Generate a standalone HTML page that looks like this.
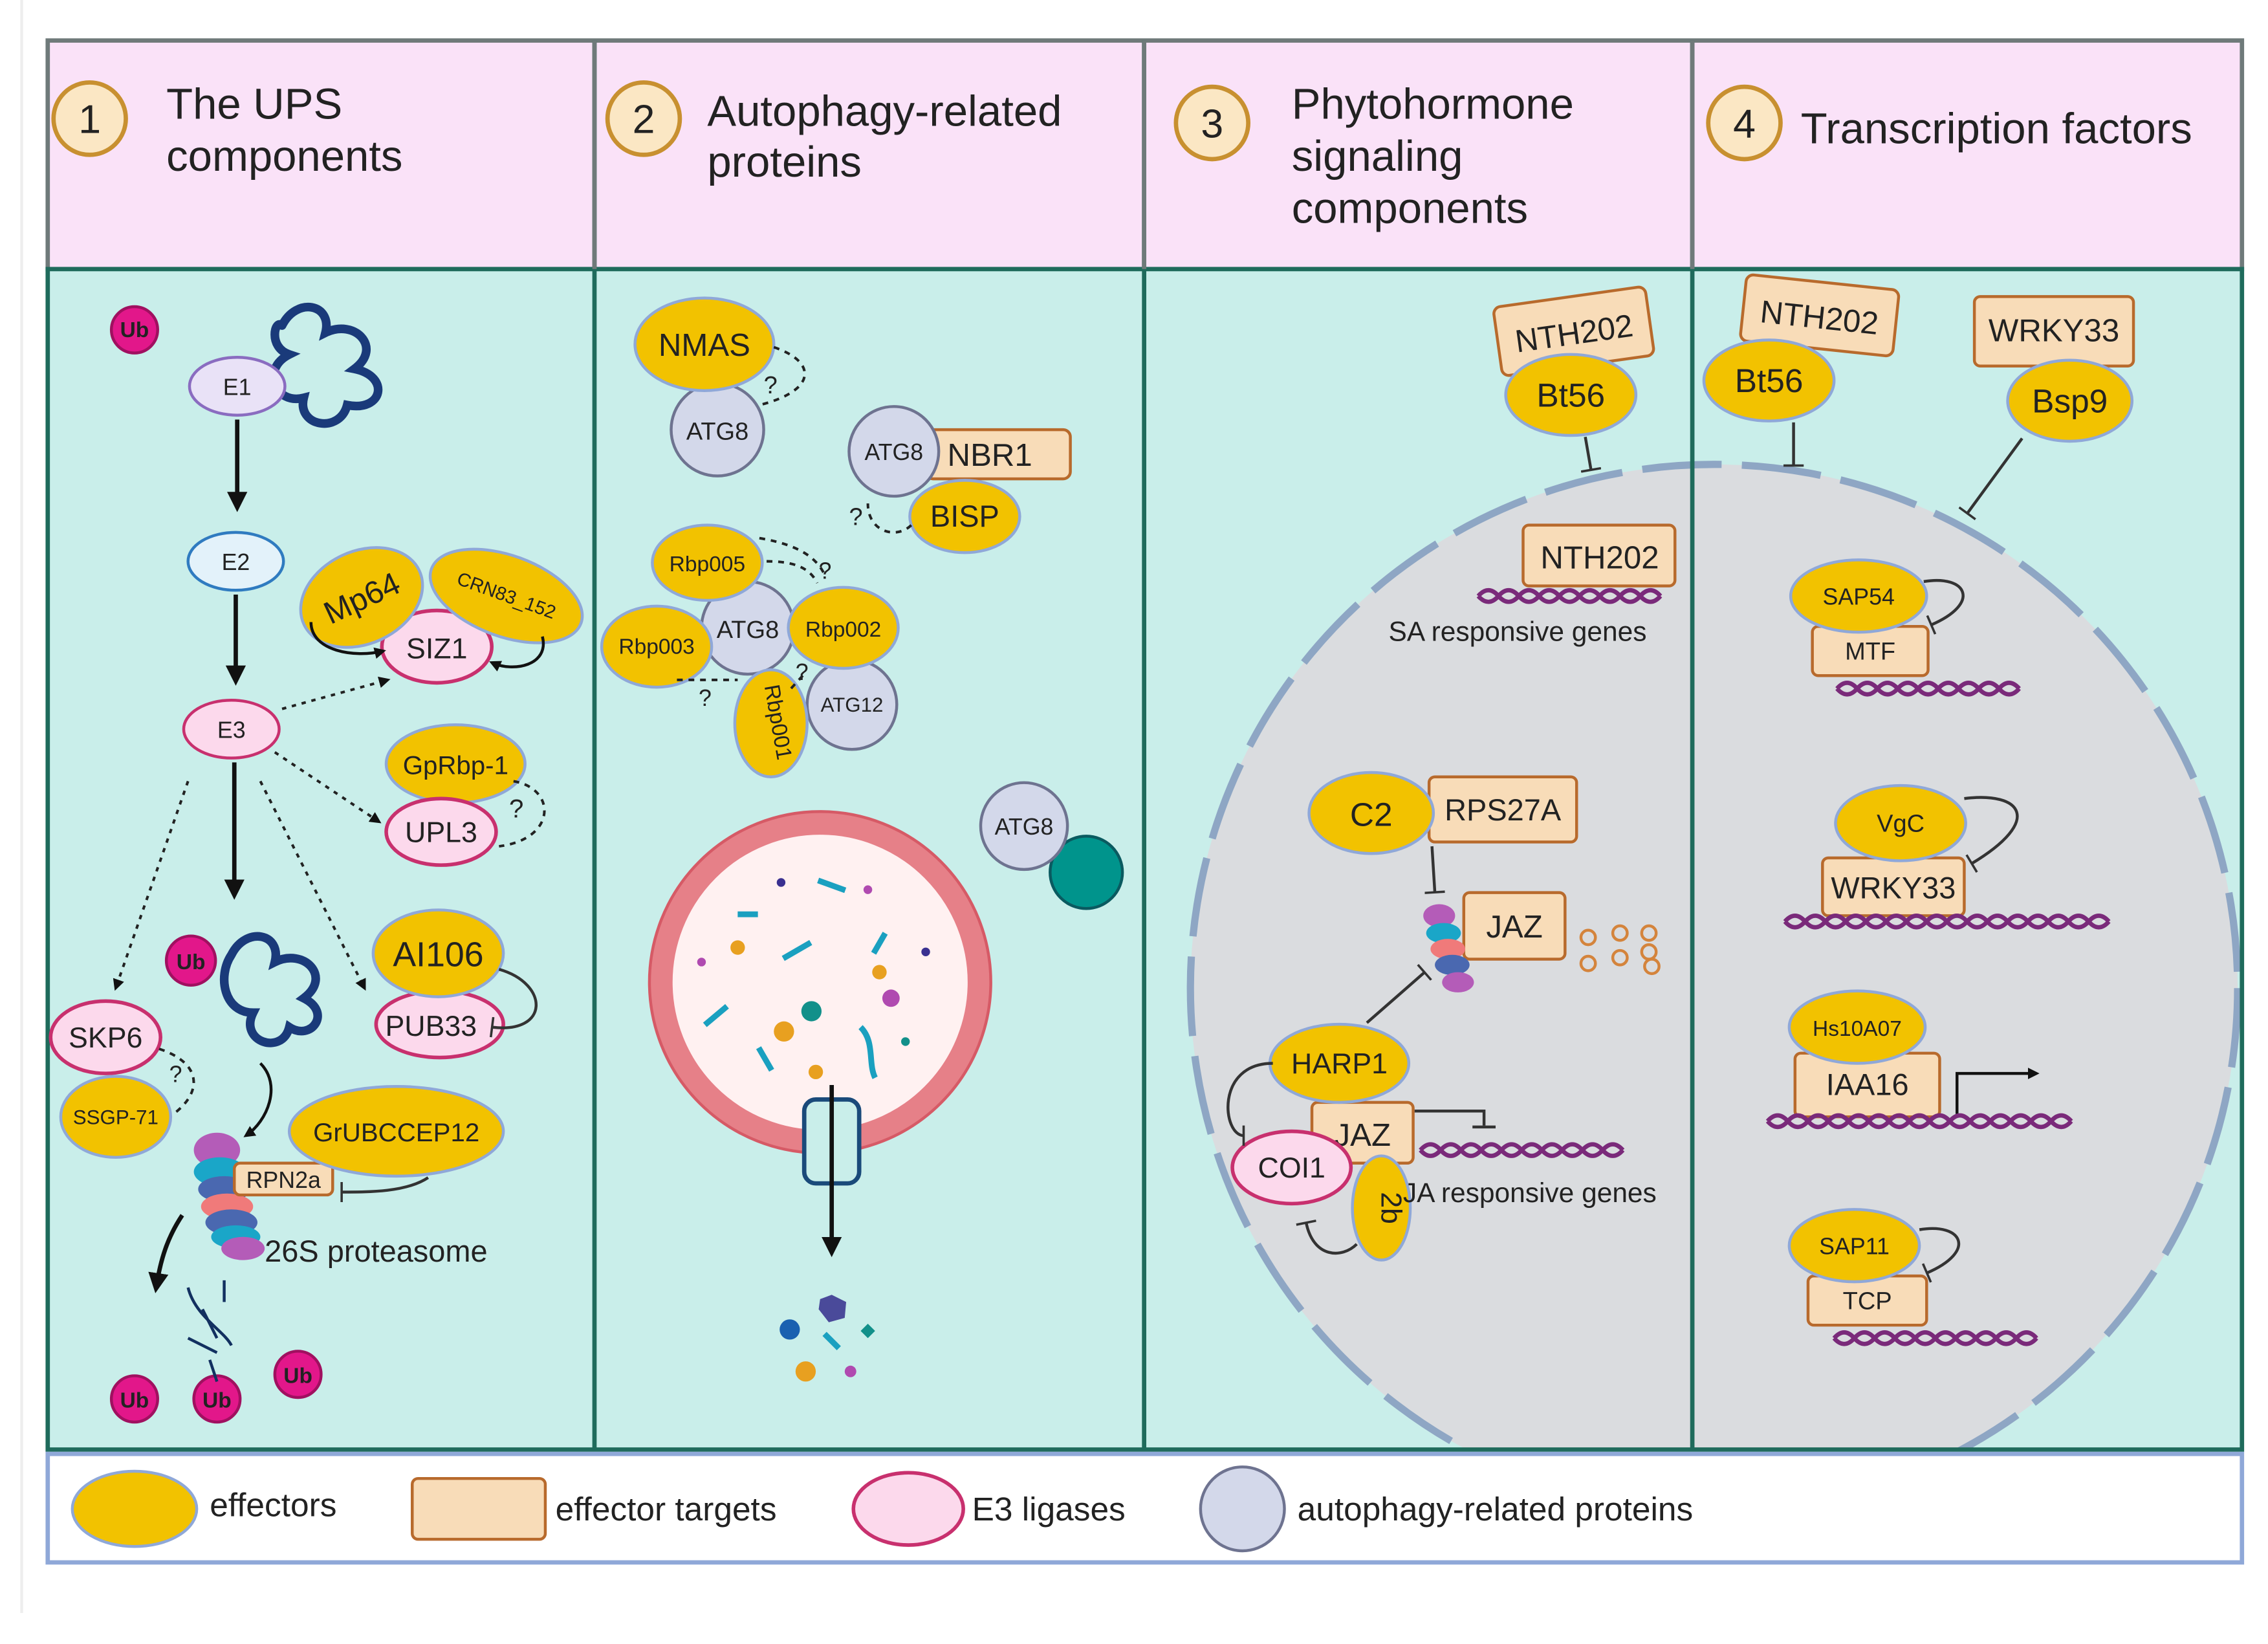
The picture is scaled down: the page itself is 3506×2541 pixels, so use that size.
<!DOCTYPE html>
<html><head><meta charset="utf-8"><style>
html,body{margin:0;padding:0;background:#fff}
svg{display:block}
text{font-family:"Liberation Sans",Arial,sans-serif;fill:#222}
</style></head><body>
<svg width="3506" height="2541" viewBox="0 0 1568 1136.4" preserveAspectRatio="none" xmlns="http://www.w3.org/2000/svg">
<defs>
<marker id="ah" markerWidth="8" markerHeight="8" refX="6" refY="4" orient="auto" markerUnits="userSpaceOnUse"><path d="M0,0 L8,4 L0,8 z" fill="#111"/></marker>
<marker id="ahb" markerWidth="14" markerHeight="14" refX="10" refY="7" orient="auto" markerUnits="userSpaceOnUse"><path d="M0,0 L14,7 L0,14 z" fill="#111"/></marker>
<marker id="tb" markerWidth="4" markerHeight="14" refX="2" refY="7" orient="auto" markerUnits="userSpaceOnUse"><rect x="1" y="0" width="1.6" height="14" fill="#333"/></marker>
<clipPath id="body"><rect x="33" y="186" width="1517" height="816"/></clipPath>
</defs>
<line x1="15" y1="0" x2="15" y2="1115" stroke="#eee" stroke-width="2"/>
<!-- header -->
<rect x="33" y="28" width="1517" height="158" fill="#fae2f8" stroke="#6f7a7a" stroke-width="3"/>
<rect x="33" y="186" width="1517" height="816" fill="#c9eeea"/>
<!-- nucleus -->
<g clip-path="url(#body)">
<circle cx="1185" cy="683" r="362" fill="#dadcdf" stroke="#8ea6c4" stroke-width="5" stroke-dasharray="55 14"/>
</g>
<g stroke="#1f6b5c" stroke-width="3" fill="none">
<rect x="33" y="186" width="1517" height="816"/>
<line x1="411" y1="28" x2="411" y2="1002"/><line x1="791" y1="28" x2="791" y2="1002"/><line x1="1170" y1="28" x2="1170" y2="1002"/>
</g>
<g stroke="#6f7a7a" stroke-width="3"><line x1="411" y1="28" x2="411" y2="186"/><line x1="791" y1="28" x2="791" y2="186"/><line x1="1170" y1="28" x2="1170" y2="186"/></g>
<!-- header circles -->
<g fill="#fbe7c4" stroke="#c89030" stroke-width="3">
<circle cx="62" cy="82" r="25"/><circle cx="445" cy="82" r="25"/><circle cx="838" cy="85" r="25"/><circle cx="1206" cy="85" r="25"/></g>
<g font-size="28" text-anchor="middle"><text x="62" y="92">1</text><text x="445" y="92">2</text><text x="838" y="95">3</text><text x="1206" y="95">4</text></g>
<g font-size="30"><text x="115" y="82">The UPS</text><text x="115" y="118">components</text>
<text x="489" y="87">Autophagy-related</text><text x="489" y="122">proteins</text>
<text x="893" y="82">Phytohormone</text><text x="893" y="118">signaling</text><text x="893" y="154">components</text>
<text x="1245" y="99">Transcription factors</text></g>

<!-- Panel 1 -->
<g fill="none" stroke="#1a3a7a" stroke-width="6" stroke-linecap="round">
<path d="M195,225 c10,-20 35,-15 30,5 c20,-10 40,10 20,25 c25,5 20,30 -5,25 c-5,20 -35,15 -30,-5 c-20,5 -30,-20 -10,-30 c-15,-5 -10,-25 -5,-20"/>
<path d="M160,660 c10,-20 35,-15 30,5 c20,-10 40,10 20,25 c20,10 5,30 -10,20 c-5,20 -35,10 -25,-10 c-20,0 -25,-25 -15,-40"/>
</g>
<g fill="#e2178a" stroke="#a01060" stroke-width="2"><circle cx="93" cy="228" r="16"/><circle cx="132" cy="664" r="17"/><circle cx="93" cy="967" r="16"/><circle cx="150" cy="967" r="16"/><circle cx="206" cy="950" r="16"/></g>
<g fill="#fff" font-size="15" font-weight="bold" text-anchor="middle"><text x="93" y="233" fill="#fff">Ub</text><text x="132" y="670" fill="#fff">Ub</text><text x="93" y="973" fill="#fff">Ub</text><text x="150" y="973" fill="#fff">Ub</text><text x="206" y="956" fill="#fff">Ub</text></g>
<ellipse cx="164" cy="267" rx="33" ry="20" fill="#e9e2f7" stroke="#8a6cc0" stroke-width="2"/><text x="164" y="273" font-size="16" text-anchor="middle">E1</text>
<ellipse cx="163" cy="388" rx="33" ry="20" fill="#e3f2fa" stroke="#2f7bc0" stroke-width="2"/><text x="163" y="394" font-size="16" text-anchor="middle">E2</text>
<ellipse cx="160" cy="504" rx="33" ry="20" fill="#fcd9ec" stroke="#c8306e" stroke-width="2"/><text x="160" y="510" font-size="16" text-anchor="middle">E3</text>
<g stroke="#111" stroke-width="3"><line x1="164" y1="290" x2="164" y2="350" marker-end="url(#ahb)"/><line x1="163" y1="411" x2="163" y2="470" marker-end="url(#ahb)"/><line x1="162" y1="527" x2="162" y2="618" marker-end="url(#ahb)"/></g>
<g stroke="#222" stroke-width="1.8" stroke-dasharray="3 4" fill="none">
<line x1="195" y1="490" x2="268" y2="470" marker-end="url(#ah)"/>
<line x1="190" y1="520" x2="262" y2="568" marker-end="url(#ah)"/>
<line x1="180" y1="540" x2="252" y2="683" marker-end="url(#ah)"/>
<line x1="130" y1="540" x2="80" y2="683" marker-end="url(#ah)"/>
</g>
<ellipse cx="302" cy="447" rx="38" ry="25" fill="#fcd9ec" stroke="#c8306e" stroke-width="2.5"/><text x="302" y="455" font-size="20" text-anchor="middle">SIZ1</text>
<ellipse cx="250" cy="413" rx="44" ry="32" transform="rotate(-25 250 413)" fill="#f2c200" stroke="#8fa8d8" stroke-width="2"/><text x="250" y="421" font-size="22" text-anchor="middle" transform="rotate(-25 250 413)">Mp64</text>
<ellipse cx="350" cy="412" rx="55" ry="28" transform="rotate(20 350 412)" fill="#f2c200" stroke="#8fa8d8" stroke-width="2"/><text x="350" y="416" font-size="13" text-anchor="middle" transform="rotate(20 350 412)">CRN83_152</text>
<path d="M215,430 c0,20 30,25 50,20" stroke="#111" stroke-width="2" fill="none" marker-end="url(#ah)"/>
<path d="M375,440 c5,20 -20,25 -35,18" stroke="#111" stroke-width="2" fill="none" marker-end="url(#ah)"/>
<ellipse cx="315" cy="528" rx="48" ry="27" fill="#f2c200" stroke="#8fa8d8" stroke-width="2"/><text x="315" y="535" font-size="18" text-anchor="middle">GpRbp-1</text>
<ellipse cx="305" cy="575" rx="38" ry="23" fill="#fcd9ec" stroke="#c8306e" stroke-width="2.5"/><text x="305" y="582" font-size="20" text-anchor="middle">UPL3</text>
<path d="M355,540 c30,5 30,40 -10,45" stroke="#222" stroke-width="1.8" stroke-dasharray="4 4" fill="none"/><text x="352" y="565" font-size="18">?</text>
<ellipse cx="304" cy="708" rx="44" ry="23" fill="#fcd9ec" stroke="#c8306e" stroke-width="2.5"/><text x="298" y="716" font-size="20" text-anchor="middle">PUB33</text>
<ellipse cx="303" cy="659" rx="45" ry="30" fill="#f2c200" stroke="#8fa8d8" stroke-width="2"/><text x="303" y="668" font-size="24" text-anchor="middle">AI106</text>
<path d="M345,670 c35,10 35,45 -5,40" stroke="#333" stroke-width="2" fill="none" marker-end="url(#tb)"/>
<ellipse cx="73" cy="717" rx="38" ry="25" fill="#fcd9ec" stroke="#c8306e" stroke-width="2.5"/><text x="73" y="724" font-size="20" text-anchor="middle">SKP6</text>
<ellipse cx="80" cy="772" rx="38" ry="28" fill="#f2c200" stroke="#8fa8d8" stroke-width="2"/><text x="80" y="777" font-size="14" text-anchor="middle">SSGP-71</text>
<path d="M110,725 c30,10 30,30 10,45" stroke="#222" stroke-width="1.8" stroke-dasharray="4 4" fill="none"/><text x="117" y="748" font-size="16">?</text>
<!-- proteasome -->
<g>
<ellipse cx="150" cy="795" rx="16" ry="12" fill="#b45cb8"/><ellipse cx="152" cy="810" rx="18" ry="10" fill="#1aa6c8"/><ellipse cx="155" cy="822" rx="18" ry="9" fill="#4a68b0"/><ellipse cx="157" cy="834" rx="18" ry="9" fill="#f07a7a"/><ellipse cx="160" cy="845" rx="18" ry="9" fill="#4a68b0"/><ellipse cx="163" cy="855" rx="17" ry="8" fill="#1aa6c8"/><ellipse cx="168" cy="863" rx="15" ry="8" fill="#b45cb8"/>
</g>
<rect x="162" y="804" width="68" height="22" rx="4" fill="#f8dcb8" stroke="#b86a2c" stroke-width="2"/><text x="196" y="821" font-size="16" text-anchor="middle">RPN2a</text>
<ellipse cx="274" cy="782" rx="74" ry="31" fill="#f2c200" stroke="#8fa8d8" stroke-width="2"/><text x="274" y="789" font-size="18" text-anchor="middle">GrUBCCEP12</text>
<path d="M296,814 c-15,10 -40,10 -60,10" stroke="#333" stroke-width="2" fill="none" marker-end="url(#tb)"/>
<path d="M180,735 c15,15 5,40 -10,50" stroke="#111" stroke-width="2" fill="none" marker-end="url(#ah)"/>
<path d="M126,840 c-10,15 -15,30 -18,50" stroke="#111" stroke-width="3" fill="none" marker-end="url(#ahb)"/>
<text x="183" y="872" font-size="21">26S proteasome</text>
<g stroke="#123060" stroke-width="2" fill="none"><path d="M130,890 c5,20 25,30 30,40"/><line x1="140" y1="905" x2="150" y2="925"/><line x1="155" y1="885" x2="155" y2="900"/><line x1="130" y1="925" x2="150" y2="935"/><line x1="145" y1="940" x2="150" y2="955"/></g>

<!-- Panel 2 -->
<ellipse cx="496" cy="297" rx="32" ry="32" fill="#d3d8ea" stroke="#6e7390" stroke-width="2"/><text x="496" y="304" font-size="17" text-anchor="middle">ATG8</text>
<ellipse cx="487" cy="238" rx="48" ry="32" fill="#f2c200" stroke="#8fa8d8" stroke-width="2"/><text x="487" y="246" font-size="22" text-anchor="middle">NMAS</text>
<path d="M535,240 c30,10 30,30 -10,40" stroke="#222" stroke-width="1.8" stroke-dasharray="4 4" fill="none"/><text x="528" y="272" font-size="17">?</text>
<rect x="640" y="297" width="100" height="34" rx="5" fill="#f8dcb8" stroke="#b86a2c" stroke-width="2"/><text x="655" y="322" font-size="22">NBR1</text>
<ellipse cx="618" cy="312" rx="31" ry="31" fill="#d3d8ea" stroke="#6e7390" stroke-width="2"/><text x="618" y="318" font-size="16" text-anchor="middle">ATG8</text>
<ellipse cx="667" cy="357" rx="38" ry="25" fill="#f2c200" stroke="#8fa8d8" stroke-width="2"/><text x="667" y="364" font-size="21" text-anchor="middle">BISP</text>
<path d="M630,363 c-10,10 -30,5 -30,-15" stroke="#222" stroke-width="1.8" stroke-dasharray="4 4" fill="none"/><text x="587" y="363" font-size="17">?</text>
<ellipse cx="517" cy="434" rx="32" ry="32" fill="#d3d8ea" stroke="#6e7390" stroke-width="2"/><text x="517" y="441" font-size="17" text-anchor="middle">ATG8</text>
<ellipse cx="589" cy="487" rx="31" ry="31" fill="#d3d8ea" stroke="#6e7390" stroke-width="2"/><text x="589" y="492" font-size="14" text-anchor="middle">ATG12</text>
<ellipse cx="489" cy="389" rx="38" ry="26" fill="#f2c200" stroke="#8fa8d8" stroke-width="2"/><text x="489" y="395" font-size="15" text-anchor="middle">Rbp005</text>
<ellipse cx="454" cy="447" rx="38" ry="28" fill="#f2c200" stroke="#8fa8d8" stroke-width="2"/><text x="454" y="452" font-size="15" text-anchor="middle">Rbp003</text>
<ellipse cx="583" cy="434" rx="38" ry="28" fill="#f2c200" stroke="#8fa8d8" stroke-width="2"/><text x="583" y="440" font-size="15" text-anchor="middle">Rbp002</text>
<ellipse cx="533" cy="500" rx="25" ry="37" fill="#f2c200" stroke="#8fa8d8" stroke-width="2"/><text x="533" y="500" font-size="15" text-anchor="middle" transform="rotate(80 533 500)">Rbp001</text>
<g stroke="#222" stroke-width="1.8" stroke-dasharray="4 4" fill="none"><path d="M525,372 c30,5 40,15 45,25"/><path d="M530,388 c20,0 30,5 35,15"/><line x1="468" y1="470" x2="510" y2="470"/><line x1="555" y1="467" x2="545" y2="478"/></g>
<g font-size="16"><text x="566" y="400">?</text><text x="483" y="488">?</text><text x="550" y="470">?</text></g>
<circle cx="567" cy="679" r="110" fill="#fff1f1" stroke="#e68088" stroke-width="16"/>
<circle cx="567" cy="679" r="118" fill="none" stroke="#d65a66" stroke-width="2"/>
<g fill="#1aa0c0"><rect x="565" y="610" width="20" height="4" transform="rotate(20 575 612)"/><rect x="540" y="655" width="22" height="4" transform="rotate(-30 551 657)"/><rect x="485" y="700" width="20" height="4" transform="rotate(-40 495 702)"/><rect x="520" y="730" width="18" height="4" transform="rotate(60 529 732)"/><rect x="600" y="650" width="16" height="4" transform="rotate(-60 608 652)"/><rect x="510" y="630" width="14" height="4"/></g>
<path d="M595,710 c10,10 5,25 10,35" stroke="#1aa0c0" stroke-width="4" fill="none"/>
<g><circle cx="510" cy="655" r="5" fill="#e8a020"/><circle cx="542" cy="713" r="7" fill="#e8a020"/><circle cx="561" cy="699" r="7" fill="#12908a"/><circle cx="608" cy="672" r="5" fill="#e8a020"/><circle cx="616" cy="690" r="6" fill="#b04ab0"/><circle cx="540" cy="610" r="3" fill="#3a3090"/><circle cx="600" cy="615" r="3" fill="#b04ab0"/><circle cx="485" cy="665" r="3" fill="#b04ab0"/><circle cx="640" cy="658" r="3" fill="#3a3090"/><circle cx="626" cy="720" r="3" fill="#12908a"/><circle cx="564" cy="741" r="5" fill="#e8a020"/></g>
<rect x="556" y="760" width="38" height="58" rx="8" fill="#c9eeea" stroke="#1a4a7a" stroke-width="3"/>
<line x1="575" y1="750" x2="575" y2="865" stroke="#111" stroke-width="3" marker-end="url(#ahb)"/>
<circle cx="751" cy="603" r="25" fill="#00948c" stroke="#0a5a60" stroke-width="2"/>
<ellipse cx="708" cy="571" rx="30" ry="30" fill="#d3d8ea" stroke="#6e7390" stroke-width="2"/><text x="708" y="577" font-size="16" text-anchor="middle">ATG8</text>
<polygon points="575,895 585,900 584,911 573,914 566,905 567,898" fill="#4a4a9a"/><circle cx="546" cy="919" r="7" fill="#1a60b0"/><circle cx="557" cy="948" r="7" fill="#e8a020"/><rect x="568" y="925" width="14" height="4" transform="rotate(45 575 927)" fill="#1aa0c0"/><polygon points="600,915 605,920 600,925 595,920" fill="#12908a"/><circle cx="588" cy="948" r="4" fill="#b04ab0"/>

<!-- Panel 3 -->
<rect x="1035" y="205" width="106" height="48" rx="5" transform="rotate(-8 1088 229)" fill="#f8dcb8" stroke="#b86a2c" stroke-width="2"/><text x="1088" y="238" font-size="22" text-anchor="middle" transform="rotate(-8 1088 229)">NTH202</text>
<ellipse cx="1086" cy="273" rx="45" ry="28" fill="#f2c200" stroke="#8fa8d8" stroke-width="2"/><text x="1086" y="281" font-size="23" text-anchor="middle">Bt56</text>
<line x1="1096" y1="302" x2="1100" y2="325" stroke="#333" stroke-width="2" marker-end="url(#tb)"/>
<rect x="1053" y="363" width="105" height="42" rx="4" fill="#f8dcb8" stroke="#b86a2c" stroke-width="2"/><text x="1106" y="393" font-size="22" text-anchor="middle">NTH202</text>
<g stroke="#7a2a7a" stroke-width="3" fill="none"><path id="dnaA" d="M1022,412 q7,-8 14,0 t14,0 t14,0 t14,0 t14,0 t14,0 t14,0 t14,0 t14,0"/><path d="M1022,412 q7,8 14,0 t14,0 t14,0 t14,0 t14,0 t14,0 t14,0 t14,0 t14,0"/></g>
<text x="960" y="443" font-size="19">SA responsive genes</text>
<rect x="988" y="537" width="102" height="45" rx="4" fill="#f8dcb8" stroke="#b86a2c" stroke-width="2"/><text x="1039" y="567" font-size="21" text-anchor="middle">RPS27A</text>
<ellipse cx="948" cy="562" rx="43" ry="28" fill="#f2c200" stroke="#8fa8d8" stroke-width="2"/><text x="948" y="571" font-size="23" text-anchor="middle">C2</text>
<line x1="990" y1="585" x2="992" y2="617" stroke="#333" stroke-width="2" marker-end="url(#tb)"/>
<rect x="1012" y="617" width="70" height="46" rx="4" fill="#f8dcb8" stroke="#b86a2c" stroke-width="2"/><text x="1047" y="648" font-size="22" text-anchor="middle">JAZ</text>
<g><ellipse cx="995" cy="633" rx="11" ry="8" fill="#b45cb8"/><ellipse cx="998" cy="645" rx="12" ry="7" fill="#1aa6c8"/><ellipse cx="1001" cy="656" rx="12" ry="7" fill="#f07a7a"/><ellipse cx="1004" cy="667" rx="12" ry="7" fill="#4a68b0"/><ellipse cx="1008" cy="679" rx="11" ry="7" fill="#b45cb8"/></g>
<g fill="none" stroke="#d4843c" stroke-width="2"><circle cx="1098" cy="648" r="5"/><circle cx="1120" cy="645" r="5"/><circle cx="1140" cy="645" r="5"/><circle cx="1098" cy="666" r="5"/><circle cx="1120" cy="662" r="5"/><circle cx="1140" cy="658" r="5"/><circle cx="1142" cy="668" r="5"/></g>
<line x1="945" y1="707" x2="985" y2="672" stroke="#333" stroke-width="2" marker-end="url(#tb)"/>
<rect x="907" y="762" width="70" height="42" rx="4" fill="#f8dcb8" stroke="#b86a2c" stroke-width="2"/><text x="942" y="792" font-size="22" text-anchor="middle">JAZ</text>
<ellipse cx="926" cy="735" rx="48" ry="27" fill="#f2c200" stroke="#8fa8d8" stroke-width="2"/><text x="926" y="742" font-size="20" text-anchor="middle">HARP1</text>
<ellipse cx="893" cy="807" rx="41" ry="25" fill="#fcd9ec" stroke="#c8306e" stroke-width="2.5"/><text x="893" y="814" font-size="20" text-anchor="middle">COI1</text>
<ellipse cx="955" cy="835" rx="20" ry="36" fill="#f2c200" stroke="#8fa8d8" stroke-width="2"/><text x="955" y="835" font-size="20" text-anchor="middle" transform="rotate(90 955 835)">2b</text>
<g stroke="#7a2a7a" stroke-width="3" fill="none"><path d="M982,795 q7,-8 14,0 t14,0 t14,0 t14,0 t14,0 t14,0 t14,0 t14,0 t14,0 t14,0"/><path d="M982,795 q7,8 14,0 t14,0 t14,0 t14,0 t14,0 t14,0 t14,0 t14,0 t14,0 t14,0"/></g>
<path d="M978,768 l48,0 l0,10" stroke="#333" stroke-width="2" fill="none"/><line x1="1018" y1="779" x2="1034" y2="779" stroke="#333" stroke-width="2"/>
<text x="970" y="831" font-size="19">JA responsive genes</text>
<path d="M880,735 c-40,0 -35,50 -20,50" stroke="#333" stroke-width="2" fill="none" marker-end="url(#tb)"/>
<path d="M938,860 c-10,10 -30,10 -35,-15" stroke="#333" stroke-width="2" fill="none" marker-end="url(#tb)"/>

<!-- Panel 4 -->
<rect x="1205" y="195" width="106" height="46" rx="5" transform="rotate(6 1258 218)" fill="#f8dcb8" stroke="#b86a2c" stroke-width="2"/><text x="1258" y="227" font-size="22" text-anchor="middle" transform="rotate(6 1258 218)">NTH202</text>
<ellipse cx="1223" cy="263" rx="45" ry="28" fill="#f2c200" stroke="#8fa8d8" stroke-width="2"/><text x="1223" y="271" font-size="23" text-anchor="middle">Bt56</text>
<line x1="1240" y1="292" x2="1240" y2="322" stroke="#333" stroke-width="2" marker-end="url(#tb)"/>
<rect x="1365" y="205" width="110" height="48" rx="4" fill="#f8dcb8" stroke="#b86a2c" stroke-width="2"/><text x="1420" y="236" font-size="22" text-anchor="middle">WRKY33</text>
<ellipse cx="1431" cy="277" rx="43" ry="28" fill="#f2c200" stroke="#8fa8d8" stroke-width="2"/><text x="1431" y="285" font-size="23" text-anchor="middle">Bsp9</text>
<line x1="1398" y1="303" x2="1360" y2="355" stroke="#333" stroke-width="2" marker-end="url(#tb)"/>
<rect x="1253" y="433" width="80" height="34" rx="4" fill="#f8dcb8" stroke="#b86a2c" stroke-width="2"/><text x="1293" y="456" font-size="17" text-anchor="middle">MTF</text>
<ellipse cx="1285" cy="412" rx="47" ry="25" fill="#f2c200" stroke="#8fa8d8" stroke-width="2"/><text x="1285" y="418" font-size="16" text-anchor="middle">SAP54</text>
<path d="M1330,402 c30,-5 40,15 5,30" stroke="#333" stroke-width="2" fill="none" marker-end="url(#tb)"/>
<rect x="1260" y="593" width="98" height="40" rx="4" fill="#f8dcb8" stroke="#b86a2c" stroke-width="2"/><text x="1309" y="621" font-size="21" text-anchor="middle">WRKY33</text>
<ellipse cx="1314" cy="569" rx="45" ry="26" fill="#f2c200" stroke="#8fa8d8" stroke-width="2"/><text x="1314" y="575" font-size="17" text-anchor="middle">VgC</text>
<path d="M1358,552 c40,-5 55,15 5,45" stroke="#333" stroke-width="2" fill="none" marker-end="url(#tb)"/>
<rect x="1241" y="728" width="100" height="44" rx="4" fill="#f8dcb8" stroke="#b86a2c" stroke-width="2"/><text x="1291" y="757" font-size="21" text-anchor="middle">IAA16</text>
<ellipse cx="1284" cy="710" rx="47" ry="25" fill="#f2c200" stroke="#8fa8d8" stroke-width="2"/><text x="1284" y="716" font-size="15" text-anchor="middle">Hs10A07</text>
<path d="M1353,770 l0,-28 l55,0" stroke="#111" stroke-width="2" fill="none" marker-end="url(#ah)"/>
<rect x="1250" y="882" width="82" height="34" rx="4" fill="#f8dcb8" stroke="#b86a2c" stroke-width="2"/><text x="1291" y="905" font-size="17" text-anchor="middle">TCP</text>
<ellipse cx="1282" cy="861" rx="45" ry="25" fill="#f2c200" stroke="#8fa8d8" stroke-width="2"/><text x="1282" y="867" font-size="16" text-anchor="middle">SAP11</text>
<path d="M1327,850 c30,-5 40,15 5,30" stroke="#333" stroke-width="2" fill="none" marker-end="url(#tb)"/>
<g stroke="#7a2a7a" stroke-width="3" fill="none">
<path d="M1270,476 q7,-8 14,0 t14,0 t14,0 t14,0 t14,0 t14,0 t14,0 t14,0 t14,0"/><path d="M1270,476 q7,8 14,0 t14,0 t14,0 t14,0 t14,0 t14,0 t14,0 t14,0 t14,0"/>
<path d="M1234,637 q7,-8 14,0 t14,0 t14,0 t14,0 t14,0 t14,0 t14,0 t14,0 t14,0 t14,0 t14,0 t14,0 t14,0 t14,0 t14,0 t14,0"/><path d="M1234,637 q7,8 14,0 t14,0 t14,0 t14,0 t14,0 t14,0 t14,0 t14,0 t14,0 t14,0 t14,0 t14,0 t14,0 t14,0 t14,0 t14,0"/>
<path d="M1222,775 q7,-8 14,0 t14,0 t14,0 t14,0 t14,0 t14,0 t14,0 t14,0 t14,0 t14,0 t14,0 t14,0 t14,0 t14,0 t14,0"/><path d="M1222,775 q7,8 14,0 t14,0 t14,0 t14,0 t14,0 t14,0 t14,0 t14,0 t14,0 t14,0 t14,0 t14,0 t14,0 t14,0 t14,0"/>
<path d="M1268,925 q7,-8 14,0 t14,0 t14,0 t14,0 t14,0 t14,0 t14,0 t14,0 t14,0 t14,0"/><path d="M1268,925 q7,8 14,0 t14,0 t14,0 t14,0 t14,0 t14,0 t14,0 t14,0 t14,0 t14,0"/>
</g>

<!-- Legend -->
<rect x="33" y="1005" width="1517" height="75" fill="#fff" stroke="#8fa8d8" stroke-width="3"/>
<ellipse cx="93" cy="1043" rx="43" ry="26" fill="#f2c200" stroke="#8fa8d8" stroke-width="2"/><text x="145" y="1048" font-size="23">effectors</text>
<rect x="285" y="1022" width="92" height="42" rx="4" fill="#f8dcb8" stroke="#b86a2c" stroke-width="2"/><text x="384" y="1051" font-size="23">effector targets</text>
<ellipse cx="628" cy="1043" rx="38" ry="25" fill="#fcd9ec" stroke="#c8306e" stroke-width="2.5"/><text x="672" y="1051" font-size="23">E3 ligases</text>
<circle cx="859" cy="1043" r="29" fill="#d3d8ea" stroke="#6e7390" stroke-width="2"/><text x="897" y="1051" font-size="23">autophagy-related proteins</text>
</svg>
</body></html>
